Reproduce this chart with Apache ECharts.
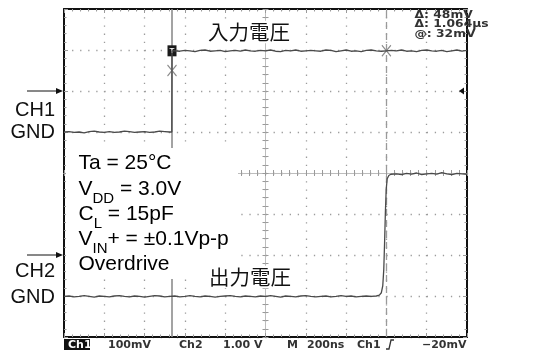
<!DOCTYPE html>
<html>
<head>
<meta charset="utf-8">
<script src="https://cdn.jsdelivr.net/npm/echarts@6/dist/echarts.min.js"></script>
<style>
  html, body { margin: 0; padding: 0; background: #fff; }
  #scope { width: 547px; height: 350px; }
</style>
</head>
<body>
<div id="scope"></div>
<script>
// ---- horizontal: 10 div x 200 ns ----
const timeRange = [0, 2000];        // ns across the screen
const timePerDiv = 200;             // ns / div

// ---- vertical: 8 div per channel ----
const ch1Range = [-600, 200];       // mV (100 mV/div, ground 6 div up)
const ch1PerDiv = 100;
const ch2Range = [-2, 6];           // V (1 V/div, ground 2 div up)
const ch2PerDiv = 1;

// ---- cursors (time on screen, level on CH1) ----
const cursorT1 = 536;               // ns
const cursorDeltaT = 1064;          // ns
const cursorLevels = [50, 98];      // mV
const cursorAt = '32mV';
const ch1MarkerLevel = 0;           // mV, marker on the right edge

// ---- readout strings ----
const statusLabels = ['Ch1', '100mV', 'Ch2', '1.00 V', 'M', '200ns', 'Ch1', '\u221220mV'];
const conditionLines = [
  [['m', 'Ta = 25°C']],
  [['m', 'V'], ['s', 'DD'], ['m', ' = 3.0V']],
  [['m', 'C'], ['s', 'L'], ['m', ' = 15pF']],
  [['m', 'V'], ['s', 'IN'], ['m', '+ = ±0.1Vp-p']],
  [['m', 'Overdrive']]
];
const inputLabel = '入力電圧';
const outputLabel = '出力電圧';

// ---- CH1: comparator input [ns, mV] ----
const ch1Trace = [
  [0,-100],[25,-99],[50,-101],[75,-100],[100,-102],[125,-99],[150,-98],[175,-100],[200,-101],[225,-99],
  [250,-101],[275,-100],[300,-98],[325,-99],[350,-101],[375,-100],[400,-99],[425,-101],[450,-100],[475,-98],
  [500,-99],[525,-100],[535,-100],[536,98],
  [550,98],[575,97],[600,99],[625,98],[650,96],[675,99],[700,100],[725,97],[750,98],[775,99],
  [800,96],[825,98],[850,99],[875,97],[900,100],[925,98],[950,97],[975,99],[1000,98],[1025,100],
  [1050,97],[1075,96],[1100,99],[1125,98],[1150,100],[1175,97],[1200,98],[1225,99],[1250,98],[1275,97],
  [1300,100],[1325,99],[1350,96],[1375,98],[1400,100],[1425,97],[1450,98],[1475,96],[1500,99],[1525,100],
  [1550,98],[1575,97],[1600,98],[1625,99],[1650,98],[1675,100],[1700,97],[1725,98],[1750,96],[1775,99],
  [1800,100],[1825,98],[1850,97],[1875,99],[1900,96],[1925,98],[1950,100],[1975,97],[2000,99]
];

// ---- CH2: comparator output [ns, V] ----
const ch2Trace = [
  [0,-1.01],[25,-1.00],[50,-1.02],[75,-1.01],[100,-0.99],[125,-1.01],[150,-1.03],[175,-1.00],[200,-1.01],[225,-1.02],
  [250,-1.00],[275,-0.99],[300,-1.01],[325,-1.02],[350,-1.00],[375,-1.01],[400,-1.03],[425,-1.01],[450,-0.99],[475,-1.00],
  [500,-1.02],[525,-1.01],[550,-1.00],[575,-1.02],[600,-1.01],[625,-0.99],[650,-1.01],[675,-1.02],[700,-1.00],[725,-1.01],
  [750,-1.03],[775,-1.01],[800,-1.00],[825,-0.99],[850,-1.01],[875,-1.02],[900,-1.00],[925,-1.01],[950,-1.02],[975,-1.00],
  [1000,-1.01],[1025,-0.99],[1050,-1.01],[1075,-1.03],[1100,-1.00],[1125,-1.01],[1150,-1.02],[1175,-1.00],[1200,-0.99],[1225,-1.01],
  [1250,-1.02],[1275,-1.01],[1300,-1.00],[1325,-1.02],[1350,-1.01],[1375,-0.99],[1400,-1.01],[1425,-1.00],[1450,-1.02],[1475,-1.01],
  [1500,-1.00],[1525,-1.01],[1550,-1.00],
  [1565,-0.98],[1575,-0.92],[1582,-0.75],[1587,-0.35],[1591,0.30],[1595,1.05],[1599,1.60],[1604,1.86],[1612,1.94],[1622,1.97],
  [1650,1.98],[1675,1.96],[1700,1.99],[1725,1.97],[1750,2.00],[1775,1.96],[1800,1.98],[1825,1.99],[1850,1.97],[1875,2.01],
  [1900,1.98],[1925,1.96],[1950,1.99],[1975,1.98],[2000,1.97]
];

// ---------------------------------------------------------------
const chart = echarts.init(document.getElementById('scope'), null, { renderer: 'canvas' });

const GRID = { left: 64, top: 9, width: 403, height: 328 };
const dotColor = '#9c9c9c';
const tickColor = '#9a9a9a';
const traceColor = '#4a4a4a';
const sansFont = '"Liberation Sans", Arial, sans-serif';
const jpFont = '"Noto Sans CJK JP", sans-serif';
const readFont = '"DejaVu Sans", sans-serif';

function frameAxis(extra) {
  return Object.assign({
    type: 'value',
    axisLine: { onZero: false, lineStyle: { color: '#111', width: 2 } },
    axisTick: { show: true, inside: true, length: 4, lineStyle: { color: tickColor, width: 1 } },
    minorTick: { show: true, splitNumber: 5, length: 2.5, lineStyle: { color: tickColor, width: 1 } },
    axisLabel: { show: false },
    splitLine: { show: false }
  }, extra);
}
function centerAxis(extra, inside, zeroIdx) {
  return Object.assign({
    type: 'value',
    axisLine: { onZero: true, onZeroAxisIndex: zeroIdx, lineStyle: { color: '#bdbdbd', width: 1 } },
    axisTick: { show: true, inside: inside, length: 3, lineStyle: { color: tickColor, width: 1 } },
    minorTick: { show: true, splitNumber: 5, length: 3, lineStyle: { color: tickColor, width: 1 } },
    axisLabel: { show: false },
    splitLine: { show: false }
  }, extra);
}

const option = {
  animation: false,
  backgroundColor: '#fff',
  grid: Object.assign({ show: false }, GRID),
  xAxis: [
    frameAxis({ min: timeRange[0], max: timeRange[1], interval: timePerDiv, position: 'bottom',
      splitLine: { show: true, lineStyle: { color: dotColor, width: 1.3, type: [1.3, 6.9] } } }),
    frameAxis({ min: -5, max: 5, interval: 1, position: 'top' }),
    centerAxis({ min: -5, max: 5, interval: 1, position: 'bottom' }, false, 0),
    centerAxis({ min: -5, max: 5, interval: 1, position: 'bottom' }, true, 0)
  ],
  yAxis: [
    frameAxis({ min: -4, max: 4, interval: 1, position: 'left',
      splitLine: { show: true, lineStyle: { color: dotColor, width: 1.3, type: [1.3, 6.76] } } }),
    frameAxis({ min: -4, max: 4, interval: 1, position: 'right' }),
    { type: 'value', min: ch1Range[0], max: ch1Range[1], interval: ch1PerDiv, show: false, axisLine: { onZero: false } },
    { type: 'value', min: ch2Range[0], max: ch2Range[1], interval: ch2PerDiv, show: false, axisLine: { onZero: false } },
    centerAxis({ min: -4, max: 4, interval: 1, position: 'left' }, false, 1),
    centerAxis({ min: -4, max: 4, interval: 1, position: 'left' }, true, 1)
  ],
  series: [
    {
      name: 'CH1', type: 'line', xAxisIndex: 0, yAxisIndex: 2,
      data: ch1Trace, symbol: 'none', z: 5,
      lineStyle: { color: traceColor, width: 1.3 },
      markLine: {
        silent: true, symbol: ['none', 'none'], label: { show: false }, z: 4,
        data: [
          { xAxis: cursorT1, lineStyle: { color: '#8c8c8c', width: 1.6, type: 'solid' } },
          { xAxis: cursorT1 + cursorDeltaT, lineStyle: { color: '#9a9a9a', width: 1.3, type: [7, 4] } }
        ]
      },
      markPoint: {
        silent: true,
        data: [
          { coord: [cursorT1, cursorLevels[0]], symbol: 'path://M0,0L10,12M10,0L0,12', symbolSize: [9, 11],
            itemStyle: { color: 'transparent', borderColor: '#8c8c8c', borderWidth: 1.2 }, label: { show: false } },
          { coord: [cursorT1 + cursorDeltaT, cursorLevels[1]], symbol: 'path://M0,0L10,12M10,0L0,12', symbolSize: [9, 11],
            itemStyle: { color: 'transparent', borderColor: '#8c8c8c', borderWidth: 1.2 }, label: { show: false } },
          { coord: [cursorT1, cursorLevels[1]], symbol: 'rect', symbolSize: [9, 11],
            itemStyle: { color: '#1a1a1a' },
            label: { show: true, position: 'inside', formatter: 'T', color: '#fff', fontSize: 8, fontWeight: 'bold', fontFamily: sansFont } }
        ]
      }
    },
    {
      name: 'CH2', type: 'line', xAxisIndex: 0, yAxisIndex: 3,
      data: ch2Trace, symbol: 'none', z: 5,
      lineStyle: { color: traceColor, width: 1.3 }
    }
  ]
};
chart.setOption(option);

// ---- annotations placed from the chart's own scales ----
const ch1Gnd = chart.convertToPixel({ yAxisIndex: 2 }, 0);
const ch2Gnd = chart.convertToPixel({ yAxisIndex: 3 }, 0);
const ch1Mark = chart.convertToPixel({ yAxisIndex: 2 }, ch1MarkerLevel);

function groundArrow(y) {
  return [
    { type: 'line', shape: { x1: 27, y1: y, x2: 58, y2: y }, style: { stroke: '#111', lineWidth: 1 }, z: 60 },
    { type: 'polygon', shape: { points: [[56, y - 3], [63, y], [56, y + 3]] }, style: { fill: '#111' }, z: 60 }
  ];
}
function leftLabel(text, y) {
  return { type: 'text', x: 55, y: y, z: 60,
    style: { text: text, fill: '#111', font: '20px ' + sansFont, textAlign: 'right', textVerticalAlign: 'middle' } };
}

// main text sits at the top of each line box, subscripts hang from its bottom
const rich = {
  m: { fontFamily: 'Liberation Sans', fontSize: 21, lineHeight: 21, verticalAlign: 'top', color: '#111' },
  s: { fontFamily: 'Liberation Sans', fontSize: 15, lineHeight: 27, verticalAlign: 'bottom', color: '#111' }
};
const lineTops = [153, 179, 204, 229, 254];
const conditionEls = conditionLines.map((parts, i) => ({
  type: 'text', x: 78.5, y: lineTops[i], z: 61,
  style: { text: parts.map(p => '{' + p[0] + '|' + p[1] + '}').join(''), rich: rich, textVerticalAlign: 'top' }
}));

const readout = [
  '\u0394: ' + (cursorLevels[1] - cursorLevels[0]) + 'mV',
  '\u0394: ' + (cursorDeltaT / 1000).toFixed(3) + '\u00b5s',
  '@: ' + cursorAt
];
const readoutEls = readout.map((t, i) => ({
  type: 'text', x: 471, y: 15 + i * 9.5, z: 60, scaleX: 1.12, originX: 471, originY: 15 + i * 9.5,
  style: { text: t, fill: '#333', font: 'bold 11px ' + readFont, textVerticalAlign: 'middle' }
}));

const statusX = [66, 108, 179, 223, 287, 307, 357, 422];
const statusEls = statusLabels.map((t, i) => ({
  type: 'text', x: statusX[i] + (i === 0 ? 2 : 0), y: 345, z: 60,
  style: { text: t, fill: i === 0 ? '#fff' : '#333', font: 'bold 11px ' + readFont, textVerticalAlign: 'middle' }
}));

chart.setOption({
  graphic: [
    // white panel behind the test conditions
    { type: 'rect', shape: { x: 66, y: 148, width: 172, height: 131 }, style: { fill: '#fff' }, z: 50 },
    ...conditionEls,
    { type: 'text', x: 207, y: 32, z: 60,
      style: { text: inputLabel, fill: '#111', font: '20.5px ' + jpFont, textVerticalAlign: 'middle',
               backgroundColor: '#fff', padding: [1, 1] } },
    { type: 'text', x: 208, y: 277, z: 60,
      style: { text: outputLabel, fill: '#111', font: '20.5px ' + jpFont, textVerticalAlign: 'middle',
               backgroundColor: '#fff', padding: [1, 1] } },
    ...groundArrow(ch1Gnd), leftLabel('CH1', 110), leftLabel('GND', 132),
    ...groundArrow(ch2Gnd), leftLabel('CH2', 271), leftLabel('GND', 297),
    // level marker on the right edge
    { type: 'polygon', shape: { points: [[459, ch1Mark], [464, ch1Mark - 3.5], [464, ch1Mark + 3.5]] },
      style: { fill: '#111' }, z: 60 },
    ...readoutEls,
    // status bar
    { type: 'rect', shape: { x: 64, y: 339, width: 26, height: 12 }, style: { fill: '#111' }, z: 55 },
    ...statusEls,
    { type: 'polyline', shape: { points: [[386, 349], [389, 349], [391, 340], [394, 340]] },
      style: { stroke: '#333', lineWidth: 1.3, fill: null }, z: 60 }
  ]
});
</script>
</body>
</html>
